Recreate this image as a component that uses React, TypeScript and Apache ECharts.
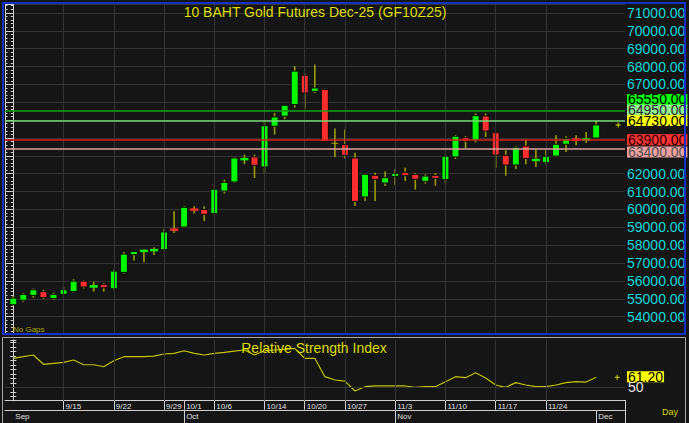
import React, { useEffect, useRef } from 'react';
import * as echarts from 'echarts';

// ---------- data ----------
const days = ['9/8','9/9','9/10','9/11','9/12','9/15','9/16','9/17','9/18','9/19','9/22','9/23','9/24','9/25','9/26','9/29','9/30','10/1','10/2','10/3','10/6','10/7','10/8','10/9','10/10','10/14','10/15','10/16','10/17','10/20','10/21','10/22','10/24','10/27','10/28','10/29','10/30','10/31','11/3','11/4','11/5','11/6','11/7','11/10','11/11','11/12','11/13','11/14','11/17','11/18','11/19','11/20','11/21','11/24','11/25','11/26','11/27','11/28','12/1'];

const open = [54670,54920,55190,55400,55010, 55250,55410,55990,55620,55810, 55560,56480,57470,57620,57670, 57750,58930,59020,60060,60000, 59770,61030,61540,62750,62940, 62380,64660,65220,65870, 67510,66610,66710,63700, 63630,62880,60700,61910,61480, 61840,62080,61970,61570,61910, 61670,62940,64020,63870,65230, 64300,63030,62490,63550,62710, 62620,62990,63650,63980,63830, 64000];
const close = [55040,55250,55510,55060,55250, 55510,55990,55660,55770,55620, 56550,57500,57650,57740,57780, 58740,58810,60120,59930,59730, 61130,61520,62880,62880,62470, 64690,65180,65830,67740, 66520,66800,63810,63700, 63030,60450,61970,61690,61780, 62020,61890,61690,61870,61740, 62980,64100,63830,65250,64390, 63050,62490,63480,62850,62820, 62980,63650,63980,63830,63980, 64730];
const high = [55150,55320,55580,55510,55340, 55660,56100,56030,55960,55880, 56630,57620,57680,57780,57880, 58900,59900,60180,60180,60180, 61170,61670,62940,63070,63070, 64950,65400,65850,68020, 67610,68110,66750,64530, 64490,63180,61990,62060,62130, 62250,62340,62040,61970,62040, 63030,64170,64100,65370,65370, 64320,63310,63540,63910,63380, 63310,64150,64100,64150,64340, 64950];
const low = [54630,54840,55060,54980,54930, 55210,55360,55580,55400,55400, 55510,56410,57150,57050,57450, 57710,58680,58980,59770,59350, 59730,60890,61480,62530,61760, 62040,64190,65050,65700, 65650,66520,63780,62940, 62850,60190,60470,60470,61310, 61370,61590,61110,61450,61330, 61480,62820,63440,63760,64060, 62340,61890,62260,62530,62380, 62530,62940,63220,63590,63720, 63990];
const rsi = [82.5,84.3,86.2,75.8,76.9, 78,80.6,75.3,75.3,73, 79.8,84.3,84.3,84.3,85, 87.3,88,91,88,86.2, 88,89.2,90.6,91.8,86.2, 91,91.8,92.5,93.7, 82.5,82.5,61.9,58.2, 57,45.9,50.7,51.5,51.5, 51.5,51.5,50,50.7,50.7, 56.3,61.9,60.8,66.3,60.4, 52.6,50,55.2,52.6,50.7, 50.7,52.6,55.2,56.3,55.9, 61.2];

const weekLabels = ['9/15','9/22','9/29','10/1','10/6','10/14','10/20','10/27','11/3','11/10','11/17','11/24'];
const gridDays = ['9/15','9/22','9/29','10/6','10/14','10/20','10/27','11/3','11/10','11/17','11/24'];
const months = ['Sep','Oct','Nov','Dec'];
const monthStarts = ['9/8','10/1','11/3','12/1'];
const levels = [65550, 64950, 63900, 63400];
const priceTicks = [54000,55000,56000,57000,58000,59000,60000,61000,62000,63000,64000,65000,66000,67000,68000,69000,70000,71000];
const title = '10 BAHT Gold Futures Dec-25 (GF10Z25)';
const rsiTitle = 'Relative Strength Index';

// ---------- styling ----------
const FONT = '"Liberation Sans", Arial, sans-serif';
const BG = '#151515';
const GRID = '#333333';
const AXIS = '#cfcfcf';
const UP = '#00f800';
const DOWN = '#ff2e2e';
const WICK = '#9c9c00';
const levelLineColors = ['#16a016', '#78d878', '#d42020', '#e0a0a0'];
const levelBg = ['#00ff00', '#90ee90', '#ff3333', '#f0a0a0'];
const levelFg = ['#000000', '#2a2a2a', '#2a0000', '#505050'];
const levelShift = [-10.8, -11, 0, 3.3];
const X_MIN = -0.826;
const X_MAX = 60.866;

function badgeLabel(text: string, bg: string, fg: string, shift: number) {
  const s = Math.max(Math.abs(shift) * 2, 1);
  const fmt = shift < 0 ? `{b|${text}}\n{s| }` : shift > 0 ? `{s| }\n{b|${text}}` : `{b|${text}}`;
  return {
    show: true,
    position: 'end',
    distance: 2,
    formatter: fmt,
    rich: {
      b: { backgroundColor: bg, color: fg, fontSize: 14, fontFamily: FONT, height: 11, lineHeight: 11, padding: [0, 1] },
      s: { fontSize: 1, height: s, lineHeight: s },
    },
  };
}

const plusPath = 'path://M2,0H3V2H5V3H3V5H2V3H0V2H2Z';

export default function App() {
  const ref = useRef<HTMLDivElement>(null);
  useEffect(() => {
    if (!ref.current) return;
    const chart = echarts.init(ref.current, null, { renderer: 'svg' });
    const last = days.length - 1;
    const candleData = days.map((_, i) => [i, open[i], close[i], low[i], high[i]]);
    const gridIdx = gridDays.map((d) => days.indexOf(d));
    const weekIdx = weekLabels.map((d) => days.indexOf(d));
    const monthIdx = monthStarts.map((d) => days.indexOf(d));
    const gridLine = { color: GRID, width: 1, type: 'solid' };
    const badgeValues = [...levels, close[last]];
    // axis labels hidden behind the price badges (as in the reference)
    const covered = (v: number) => badgeValues.some((b) => Math.abs(b - v) < 650);

    const mainMarks = [
      ...gridIdx.map((i) => ({ xAxis: i, lineStyle: gridLine, label: { show: false } })),
      ...levels.map((v, k) => ({
        yAxis: v,
        lineStyle: { color: levelLineColors[k], width: 1.5, type: 'solid' },
        label: badgeLabel(v.toFixed(2), levelBg[k], levelFg[k], levelShift[k]),
      })),
      {
        yAxis: close[last],
        lineStyle: { color: 'rgba(0,0,0,0)', width: 0, type: 'solid' },
        label: badgeLabel(close[last].toFixed(2), '#ffff00', '#000000', -4.4),
      },
    ];

    const rsiMarks = [
      ...gridIdx.map((i) => ({ xAxis: i, lineStyle: gridLine, label: { show: false } })),
      { yAxis: 50, lineStyle: gridLine, label: { show: false } },
      {
        yAxis: rsi[last],
        lineStyle: { color: 'rgba(0,0,0,0)', width: 0, type: 'solid' },
        label: badgeLabel(rsi[last].toFixed(2), '#ffff00', '#000000', -0.5),
      },
    ];

    const option: any = {
      animation: false,
      backgroundColor: BG,
      textStyle: { fontFamily: FONT },
      grid: [
        { left: 5, top: 3.96, width: 620, height: 330.6 },
        { left: 5, top: 340, width: 620, height: 60.7 },
      ],
      xAxis: [
        { type: 'value', gridIndex: 0, min: X_MIN, max: X_MAX, show: false },
        {
          type: 'value', gridIndex: 1, min: X_MIN, max: X_MAX, position: 'bottom',
          axisLine: { show: true, lineStyle: { color: AXIS, width: 1 } },
          axisTick: { show: true, customValues: weekIdx, length: 9, inside: false, lineStyle: { color: AXIS } },
          axisLabel: {
            show: true, customValues: weekIdx, formatter: (v: number) => days[Math.round(v)],
            align: 'left', padding: [0, 0, 0, 2], margin: 2, fontSize: 8, color: '#e0e0e0', fontFamily: FONT,
          },
          splitLine: { show: false },
        },
        {
          type: 'value', gridIndex: 1, min: X_MIN, max: X_MAX, position: 'bottom', offset: 10,
          axisLine: { show: true, lineStyle: { color: AXIS, width: 1 } },
          axisTick: { show: true, customValues: monthIdx.slice(1), length: 13, inside: false, lineStyle: { color: AXIS } },
          axisLabel: {
            show: true, customValues: monthIdx, formatter: (v: number) => months[monthIdx.indexOf(Math.round(v))],
            align: 'left', padding: [0, 0, 0, 2], margin: 2, fontSize: 8, color: '#e0e0e0', fontFamily: FONT,
          },
          splitLine: { show: false },
        },
      ],
      yAxis: [
        {
          type: 'value', gridIndex: 0, position: 'right', min: 53000, max: 71500, interval: 1000,
          axisLine: { show: true, lineStyle: { color: AXIS, width: 1 } },
          axisTick: { show: true, inside: true, length: 5, lineStyle: { color: AXIS } },
          minorTick: { show: true, splitNumber: 5, length: 2.5, lineStyle: { color: AXIS } },
          axisLabel: {
            color: '#10d8d8', fontSize: 14, fontFamily: FONT, margin: 2,
            formatter: (v: number) => (priceTicks.indexOf(v) >= 0 && !covered(v) ? v.toFixed(2) : ''),
          },
          splitLine: { show: true, lineStyle: { color: GRID, width: 1 } },
        },
        {
          type: 'value', gridIndex: 0, position: 'left', min: 53000, max: 71500, interval: 1000,
          axisLine: { show: true, lineStyle: { color: AXIS, width: 1 } },
          axisTick: { show: true, inside: true, length: 4, lineStyle: { color: AXIS } },
          minorTick: { show: true, splitNumber: 5, length: 2.5, lineStyle: { color: AXIS } },
          axisLabel: { show: false },
          splitLine: { show: false },
        },
        {
          type: 'value', gridIndex: 1, position: 'right', min: 35, max: 103, interval: 5,
          axisLine: { show: true, lineStyle: { color: AXIS, width: 1 } },
          axisTick: { show: true, inside: true, length: 3, lineStyle: { color: AXIS } },
          axisLabel: {
            color: '#e8e8e8', fontSize: 14, fontFamily: FONT, margin: 3, padding: [3, 0, 0, 0],
            formatter: (v: number) => (v === 50 ? '50' : ''),
          },
          splitLine: { show: false },
        },
        {
          type: 'value', gridIndex: 1, position: 'left', min: 35, max: 103, interval: 5,
          axisLine: { show: true, lineStyle: { color: AXIS, width: 1 } },
          axisTick: { show: true, inside: true, length: 3, lineStyle: { color: AXIS } },
          axisLabel: { show: false },
          splitLine: { show: false },
        },
      ],
      series: [
        {
          type: 'line', xAxisIndex: 0, yAxisIndex: 0, data: [], z: 1, silent: true,
          markLine: { silent: true, symbol: ['none', 'none'], data: mainMarks },
          markPoint: {
            silent: true,
            data: [{ coord: [last, close[last]], symbol: plusPath, symbolSize: 5, symbolOffset: [22, 0], itemStyle: { color: '#d8d800' }, label: { show: false } }],
          },
        },
        {
          type: 'custom', xAxisIndex: 0, yAxisIndex: 0, z: 3, silent: true,
          data: candleData,
          encode: { x: 0, y: [1, 2, 3, 4] },
          renderItem: (params: any, api: any) => {
            const i = api.value(0);
            const o = api.value(1), c = api.value(2), l = api.value(3), h = api.value(4);
            const pH = api.coord([i, h]);
            const pL = api.coord([i, l]);
            const pO = api.coord([i, o]);
            const pC = api.coord([i, c]);
            const cx = pH[0];
            const children: any[] = [
              { type: 'line', shape: { x1: cx, y1: pH[1], x2: cx, y2: pL[1] }, style: { stroke: WICK, lineWidth: 1.6 } },
            ];
            if (o === c) {
              children.push({ type: 'line', shape: { x1: cx - 3.5, y1: pO[1], x2: cx + 3.5, y2: pO[1] }, style: { stroke: WICK, lineWidth: 1 } });
            } else {
              let top = Math.min(pO[1], pC[1]);
              let ht = Math.abs(pO[1] - pC[1]);
              const small = ht < 3;
              if (ht < 2.4) { top = (pO[1] + pC[1]) / 2 - 1.2; ht = 2.4; }
              const bw = small ? 8 : 7;
              children.push({
                type: 'rect',
                shape: { x: cx - bw / 2, y: top, width: bw, height: ht },
                style: small ? { fill: c > o ? UP : DOWN } : { fill: c > o ? UP : DOWN, stroke: '#0b0b0b', lineWidth: 1 },
              });
            }
            return { type: 'group', children };
          },
        },
        {
          type: 'line', xAxisIndex: 1, yAxisIndex: 2, data: [], z: 1, silent: true,
          markLine: { silent: true, symbol: ['none', 'none'], data: rsiMarks },
          markPoint: {
            silent: true,
            data: [{ coord: [last, rsi[last]], symbol: plusPath, symbolSize: 5, symbolOffset: [21, 0], itemStyle: { color: '#d8d800' }, label: { show: false } }],
          },
        },
        {
          type: 'line', xAxisIndex: 1, yAxisIndex: 2, z: 3, silent: true,
          data: rsi.map((v, i) => [i, v]),
          symbol: 'none',
          lineStyle: { color: '#c4c400', width: 1.2 },
        },
      ],
      graphic: [
        { type: 'rect', z: 50, silent: true, shape: { x: 3, y: 3, width: 682, height: 331 }, style: { fill: 'none', stroke: '#1530c8', lineWidth: 2 } },
        { type: 'rect', z: 50, silent: true, shape: { x: 2.5, y: 337.5, width: 683, height: 100 }, style: { fill: 'none', stroke: '#a8a8a8', lineWidth: 1 } },
        { type: 'line', z: 50, silent: true, shape: { x1: 625.5, y1: 400, x2: 625.5, y2: 423 }, style: { stroke: AXIS, lineWidth: 1 } },
        { type: 'text', z: 60, silent: true, x: 315, y: 12, style: { text: title, fill: '#dede00', fontSize: 14, fontFamily: FONT, align: 'center', verticalAlign: 'middle' } },
        { type: 'text', z: 60, silent: true, x: 314, y: 347.5, style: { text: rsiTitle, fill: '#dede00', fontSize: 14, fontFamily: FONT, align: 'center', verticalAlign: 'middle' } },
        { type: 'text', z: 60, silent: true, x: 13, y: 329.5, style: { text: 'No Gaps', fill: '#a8a800', fontSize: 8, fontFamily: FONT, align: 'left', verticalAlign: 'middle' } },
        { type: 'text', z: 60, silent: true, x: 662, y: 412, style: { text: 'Day', fill: '#d8d800', fontSize: 9, fontFamily: FONT, align: 'left', verticalAlign: 'middle' } },
      ],
    };
    chart.setOption(option);
    return () => chart.dispose();
  }, []);
  return (
    <div
      ref={ref}
      style={{ position: 'fixed', left: 0, top: 0, width: 689, height: 423, background: BG }}
    />
  );
}
